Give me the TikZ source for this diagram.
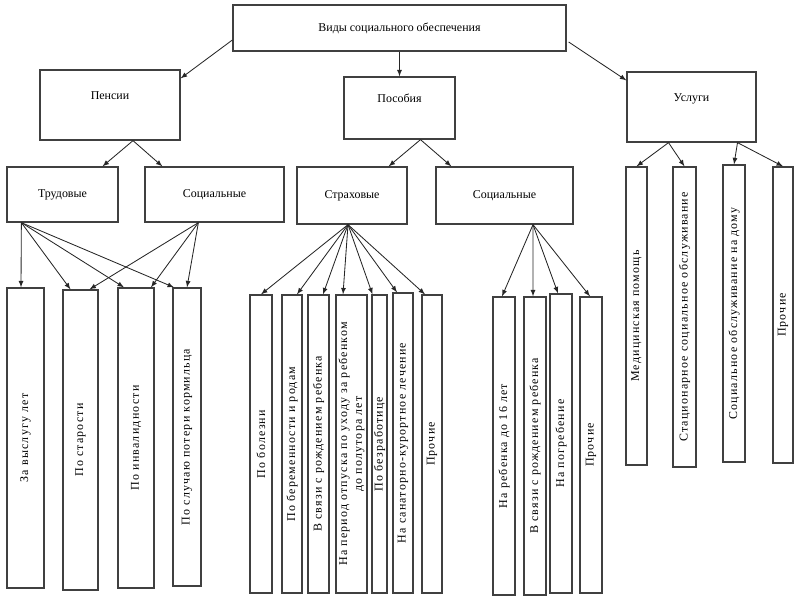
\documentclass[tikz,border=0pt]{standalone}
\usepackage{fontspec}
\setmainfont{Liberation Serif}
\usetikzlibrary{calc}

\begin{document}
\begin{tikzpicture}[x=0.025cm,y=-0.025cm,>=latex,
    box/.style={draw=black!75,line width=0.9pt,fill=white,inner sep=1pt,align=center,
        font=\fontsize{8.5}{10.5}\selectfont},
    vbox/.style={box,rotate=90,
        font=\fontsize{8.5}{10.5}\selectfont\addfontfeature{LetterSpace=10}},
    sz/.style 2 args={minimum width=#1*0.025cm,minimum height=#2*0.025cm},
    upper/.style={text depth=14pt},
    arr/.style={->,draw=black!85,line width=0.6pt}]
    \useasboundingbox (0,0) rectangle (800,600);
    \node[box,sz={333}{46}] (vidy) at (399.5,28) {Виды социального обеспечения};
    \node[box,upper,sz={140}{70}] (pens) at (110,105) {Пенсии};
    \node[box,upper,sz={111}{62}] (posob) at (399.5,108) {Пособия};
    \node[box,upper,sz={129}{70}] (usl) at (691.5,107) {Услуги};
    \node[box,sz={111}{55}] (trud) at (62.5,194.5) {Трудовые};
    \node[box,sz={139}{55}] (socp) at (214.5,194.5) {Социальные};
    \node[box,sz={110}{57}] (strah) at (352,195.5) {Страховые};
    \node[box,sz={137}{57}] (socb) at (504.5,195.5) {Социальные};
    \foreach \n/\x/\y/\w/\h/\t in {
        p1/25.5/438/37/300/{За выслугу лет},
        p2/80.5/440/35/300/{По старости},
        p3/136/438/36/300/{По инвалидности},
        p4/187/437/28/298/{По случаю потери кормильца},
        i1/261/444/22/298/{По болезни},
        i2/292/444/20/298/{По беременности и родам},
        i3/318.5/444/21/298/{В связи с рождением ребенка},
        i4/351.5/444/31/298/{На период отпуска по уходу за ребенком\\до полутора лет},
        i5/379.5/444/15/298/{По безработице},
        i6/403/443/20/300/{На санаторно-курортное лечение},
        i7/432/444/20/298/{Прочие},
        s1/504/446/22/298/{На ребенка до 16 лет},
        s2/535/446/22/298/{В связи с рождением ребенка},
        s3/561/443.5/22/299/{На погребение},
        s4/591/445/22/296/{Прочие},
        u1/636.5/316/21/298/{Медицинская помощь},
        u2/684.5/317/23/300/{Стационарное социальное обслуживание},
        u3/734/313.5/22/297/{Социальное обслуживание на дому},
        u4/783/315/20/296/{Прочие}}
    {
        \node[vbox,sz={\h}{\w}] (\n) at (\x,\y) {\t};
    }
    \draw[arr] ($(vidy.west)+(0,12)$) -- ($(pens.north east)+(0,9)$);
    \draw[arr] (vidy.south) -- (posob.north);
    \draw[arr] ($(vidy.east)+(2,14)$) -- ($(usl.north west)+(0,9)$);
    \coordinate (penssrc) at ($(pens.south)+(23,0)$);
    \draw[arr] (penssrc) -- ($(trud.north)+(40,0)$);
    \draw[arr] (penssrc) -- ($(socp.north west)+(18,0)$);
    \coordinate (posobsrc) at ($(posob.south)+(21,0)$);
    \draw[arr] (posobsrc) -- ($(strah.north east)+(-19,0)$);
    \draw[arr] (posobsrc) -- ($(socb.north west)+(16,0)$);
    \coordinate (uslsrca) at ($(usl.south)+(-23,0)$);
    \coordinate (uslsrcb) at ($(usl.south)+(46,0)$);
    \foreach \t in {u1,u2}
    {
        \draw[arr] (uslsrca) -- (\t.east);
    }
    \foreach \t in {u3,u4}
    {
        \draw[arr] (uslsrcb) -- (\t.east);
    }
    \coordinate (trudsrc) at ($(trud.south west)+(15,0)$);
    \foreach \t/\d in {p1/-4.5,p2/-10,p3/-12,p4/-13}
    {
        \draw[arr] (trudsrc) -- ($(\t.east)+(\d,0)$);
    }
    \coordinate (socpsrc) at ($(socp.south west)+(54,0)$);
    \foreach \t/\d in {p2/9,p3/15,p4/0}
    {
        \draw[arr] (socpsrc) -- ($(\t.east)+(\d,0)$);
    }
    \coordinate (strahsrc) at ($(strah.south)+(-4,0)$);
    \foreach \t/\d in {i1/0,i2/5,i3/4.5,i4/-8.5,i5/-7,i6/-6,i7/-7}
    {
        \draw[arr] (strahsrc) -- ($(\t.east)+(\d,0)$);
    }
    \coordinate (socbsrc) at ($(socb.south)+(28.5,0)$);
    \foreach \t/\d in {s1/-2,s2/-2,s3/-3,s4/-1}
    {
        \draw[arr] (socbsrc) -- ($(\t.east)+(\d,0)$);
    }
\end{tikzpicture}
\end{document}
